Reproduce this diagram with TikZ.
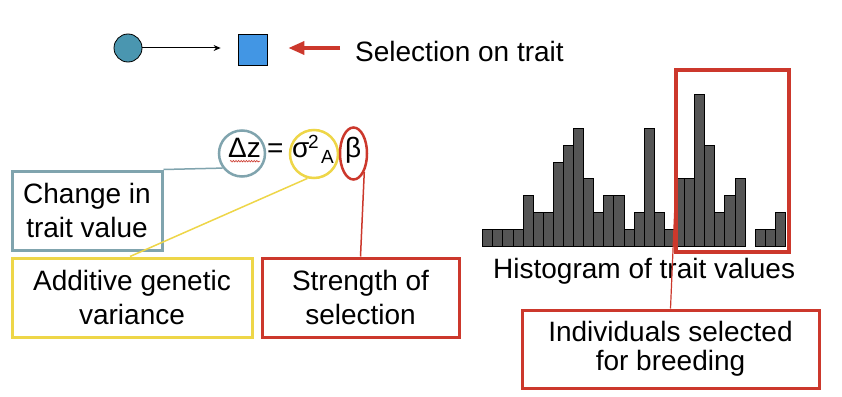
\documentclass[tikz,border=0pt]{standalone}
\usepackage{fontspec}
\setmainfont{Liberation Sans}
\usetikzlibrary{arrows.meta,decorations.pathmorphing,shapes.geometric}
\definecolor{tealc}{RGB}{128,164,174}
\definecolor{yelc}{RGB}{238,214,72}
\definecolor{redc}{RGB}{204,56,44}
\definecolor{dotc}{RGB}{74,150,176}
\definecolor{sqc}{RGB}{66,150,228}
\definecolor{barc}{RGB}{85,85,85}
\tikzset{
  lbl/.style={font=\fontsize{28}{34}\selectfont, align=center, inner sep=0pt},
  tbox/.style={draw=#1, line width=3pt, minimum height=79pt, inner sep=0pt,
               font=\fontsize{28}{34}\selectfont, align=center},
  eq/.style={inner sep=0pt, anchor=base west, font=\fontsize{28}{34}\selectfont},
  eqs/.style={inner sep=0pt, anchor=base west, font=\fontsize{19}{22}\selectfont},
  ring/.style={draw=#1, line width=2.5pt, inner sep=0pt},
  conn/.style={draw=#1, line width=1.5pt},
  bar/.style={fill=barc, draw=black, line width=0.8pt}
}
\begin{document}
\begin{tikzpicture}[x=1pt,y=-1pt]
\useasboundingbox (0,0) rectangle (842,396);
\fill[white] (0,0) rectangle (842,396);

% top row
\node[circle, draw=black, line width=0.8pt, fill=dotc, minimum size=28pt, inner sep=0pt] (dot) at (128,48) {};
\node[draw=black, line width=0.8pt, fill=sqc, minimum width=29pt, minimum height=31pt, inner sep=0pt] (sq) at (252.5,49.5) {};
\draw[line width=1pt, -{Stealth[length=7pt,width=6pt]}] (dot) -- ([xshift=-17pt]sq.west |- dot);
\node[lbl, anchor=base west] (sel) at (355,62) {Selection on trait};
\draw[redc, line width=3.5pt, -{Triangle[length=16pt,width=13pt]}] ([xshift=-15pt]sel.west |- dot) -- ([xshift=21pt]sq.east |- dot);

% equation
\node[eq] (dz) at (228,157) {Δz};
\node[eq] (eqsign) at (267,157) {=};
\node[eq] (sig) at (292,157) {σ};
\node[eqs] (two) at (308,148) {2};
\node[eqs] (subA) at (321,163) {A};
\node[eq] (beta) at (345,157) {β};
\draw[redc, line width=0.6pt, decorate, decoration={snake, amplitude=0.8pt, segment length=2.6pt}] ([xshift=2pt,yshift=-4pt]dz.south west) -- ([xshift=-1pt,yshift=-4pt]dz.south east);

\node[circle, ring=tealc, minimum size=46pt] (cdz) at (242,153.5) {};
\node[circle, ring=yelc, minimum size=48pt] (csig) at (314,154) {};
\node[ellipse, ring=redc, minimum width=27pt, minimum height=52pt] (cbeta) at (353.5,153.5) {};

% label boxes
\node[tbox=tealc, minimum width=150pt] (chg) at (87,210.5) {Change in\\trait value};
\node[tbox=yelc, minimum width=240pt] (add) at (132,297.5) {Additive genetic\\variance};
\node[tbox=redc, minimum width=197pt] (str) at (360.5,297.5) {Strength of\\selection};

\draw[conn=tealc] (chg.north east) -- (cdz.217);
\draw[conn=yelc] ([xshift=-2pt]add.north) -- (csig.255);
\draw[conn=redc] (str.north) -- (cbeta.300);

% histogram
\foreach \h [count=\i from 0] in {1,1,1,1,3,2,2,5,6,7,4,2,3,3,1,2,7,2,1,4,4,9,6,2,3,4,0,1,1,2}{
  \ifnum\h>0
    \draw[bar] (482.7+\i*10.09,246) rectangle ++(10.09,-\h*16.8);
  \fi
}
\node[lbl, anchor=base west] (histlbl) at (493,278) {Histogram of trait values};
\node[draw=redc, line width=3.5pt, minimum width=113pt, minimum height=182pt, inner sep=0pt] (selbox) at (732.5,161) {};
\node[tbox=redc, minimum width=297pt, minimum height=78pt, font=\fontsize{28}{29}\selectfont] (ind) at (670.5,349) {Individuals selected\\for breeding};
\coordinate (selpt) at (676,180);
\draw[redc, line width=1.2pt] (ind.north) -- (selpt);
\end{tikzpicture}
\end{document}
